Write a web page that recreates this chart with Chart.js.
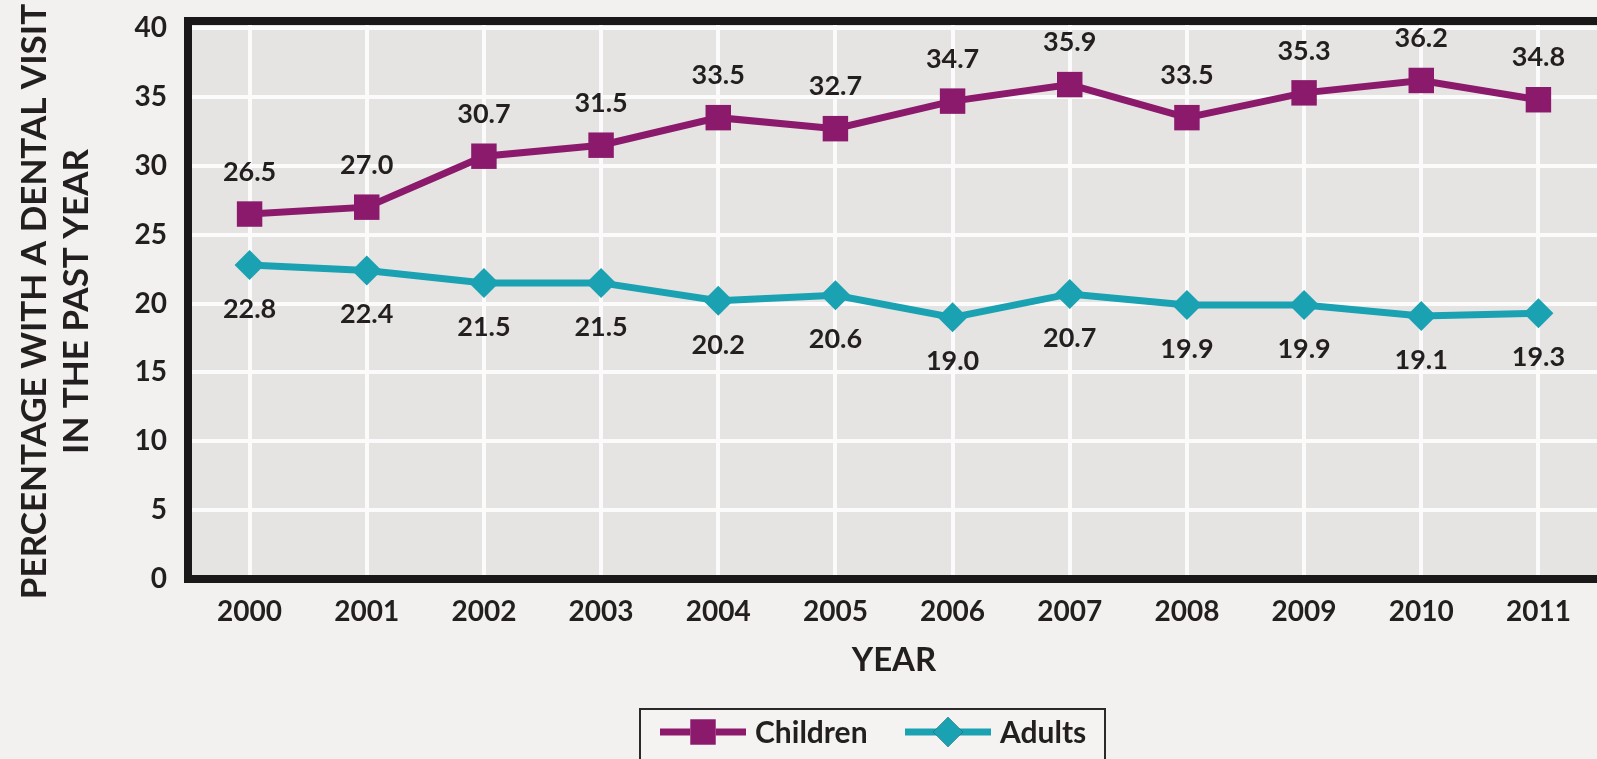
<!DOCTYPE html>
<html>
<head>
<meta charset="utf-8">
<script src="https://cdn.jsdelivr.net/npm/chart.js@4/dist/chart.umd.min.js"></script>
<style>
  html, body { margin: 0; padding: 0; background: #f2f1ef; }
  #wrap { width: 1597px; height: 759px; position: relative; }
</style>
</head>
<body>
<div id="wrap"><canvas id="dentalChart" width="1597" height="759"></canvas></div>
<script>
// data
const years = ['2000', '2001', '2002', '2003', '2004', '2005', '2006', '2007', '2008', '2009', '2010', '2011'];
const children = [26.5, 27.0, 30.7, 31.5, 33.5, 32.7, 34.7, 35.9, 33.5, 35.3, 36.2, 34.8];
const adults = [22.8, 22.4, 21.5, 21.5, 20.2, 20.6, 19.0, 20.7, 19.9, 19.9, 19.1, 19.3];
const yTicks = [0, 5, 10, 15, 20, 25, 30, 35, 40];

const FONT = 'Lato, "Open Sans", sans-serif';
const INK = '#231f20';
const PURPLE = '#8b1a6d';
const TEAL = '#1aa2b3';

// plot background + thick frame (left, top, bottom)
const framePlugin = {
    id: 'frame',
    beforeDraw(chart) {
        const {ctx, chartArea: a} = chart;
        ctx.save();
        ctx.fillStyle = '#e6e4e2';
        ctx.fillRect(a.left - 3, a.top - 3, chart.width, a.bottom - a.top + 3);
        ctx.restore();
    },
    beforeDatasetsDraw(chart) {
        const {ctx, chartArea: a} = chart;
        ctx.save();
        ctx.strokeStyle = '#1a1818';
        ctx.lineWidth = 8;
        ctx.beginPath();
        ctx.moveTo(chart.width + 5, a.top - 3);
        ctx.lineTo(a.left - 3, a.top - 3);
        ctx.lineTo(a.left - 3, a.bottom);
        ctx.lineTo(chart.width + 5, a.bottom);
        ctx.stroke();
        ctx.restore();
    }
};

// value labels above (children) or below (adults) each point
const valueLabels = {
    id: 'valueLabels',
    afterDatasetsDraw(chart) {
        const {ctx} = chart;
        ctx.save();
        ctx.font = 'bold 27px ' + FONT;
        ctx.fillStyle = INK;
        ctx.textAlign = 'center';
        ctx.textBaseline = 'middle';
        chart.data.datasets.forEach((ds, i) => {
            const meta = chart.getDatasetMeta(i);
            meta.data.forEach((pt, j) => {
                const dy = ds.labelSide === 'above' ? -42 : 44;
                ctx.fillText(ds.data[j].toFixed(1), pt.x, pt.y + dy);
            });
        });
        ctx.restore();
    }
};

// boxed legend with line + marker samples
const boxLegend = {
    id: 'boxLegend',
    afterDraw(chart) {
        const {ctx} = chart;
        ctx.save();
        ctx.strokeStyle = '#2a2a2a';
        ctx.lineWidth = 2;
        ctx.fillStyle = '#f4f3f1';
        ctx.fillRect(640, 709, 465, 60);
        ctx.strokeRect(640, 709, 465, 60);
        ctx.font = 'bold 30px ' + FONT;
        ctx.textBaseline = 'middle';
        ctx.textAlign = 'left';
        const items = [
            {x: 660, ds: chart.data.datasets[0]},
            {x: 905, ds: chart.data.datasets[1]}
        ];
        items.forEach(it => {
            const y = 732;
            ctx.strokeStyle = it.ds.borderColor;
            ctx.lineWidth = 7;
            ctx.beginPath();
            ctx.moveTo(it.x, y);
            ctx.lineTo(it.x + 86, y);
            ctx.stroke();
            Chart.helpers.drawPoint(ctx, {
                pointStyle: it.ds.pointStyle,
                radius: it.ds.pointRadius,
                borderWidth: 0,
                rotation: 0
            }, it.x + 43, y);
            ctx.fillStyle = it.ds.backgroundColor;
            ctx.fill();
            ctx.fillStyle = INK;
            ctx.fillText(it.ds.label, it.x + 95, y + 1);
        });
        ctx.restore();
    }
};

const ctx = document.getElementById('dentalChart').getContext('2d');
new Chart(ctx, {
    type: 'line',
    data: {
        labels: years,
        datasets: [
            {
                label: 'Children',
                data: children,
                borderColor: PURPLE,
                backgroundColor: PURPLE,
                borderWidth: 7,
                pointStyle: 'rect',
                pointRadius: 18,
                pointBorderWidth: 0,
                labelSide: 'above'
            },
            {
                label: 'Adults',
                data: adults,
                borderColor: TEAL,
                backgroundColor: TEAL,
                borderWidth: 7,
                pointStyle: 'rectRot',
                pointRadius: 15,
                pointBorderWidth: 0,
                labelSide: 'below'
            }
        ]
    },
    options: {
        responsive: false,
        animation: false,
        layout: { autoPadding: false, padding: { top: 24, right: 0, left: 0, bottom: 0 } },
        plugins: {
            legend: { display: false },
            tooltip: { enabled: false }
        },
        scales: {
            x: {
                offset: true,
                grid: { color: '#fbfbfb', lineWidth: 4, drawTicks: false },
                border: { display: false },
                ticks: {
                    color: INK,
                    font: { family: FONT, size: 28, weight: 'bold' },
                    padding: 16,
                    maxRotation: 0
                },
                title: {
                    display: true,
                    text: 'YEAR',
                    color: INK,
                    font: { family: FONT, size: 33, weight: 'bold' },
                    padding: { top: 0, bottom: 79 }
                },
                afterFit(scale) {
                    scale.height = 180;
                    scale.paddingLeft = 0;
                    scale.paddingRight = 0;
                }
            },
            y: {
                min: 0,
                max: 40.3,
                grid: { color: '#fbfbfb', lineWidth: 4, drawTicks: false },
                border: { display: false },
                afterBuildTicks(scale) {
                    scale.ticks = yTicks.map(v => ({ value: v }));
                },
                ticks: {
                    color: INK,
                    font: { family: FONT, size: 28, weight: 'bold' },
                    padding: 24
                },
                title: {
                    display: true,
                    text: ['PERCENTAGE WITH A DENTAL VISIT', 'IN THE PAST YEAR'],
                    color: INK,
                    font: { family: FONT, size: 35, weight: 'bold', lineHeight: 1.2 },
                    padding: { top: 14, bottom: 0 }
                },
                afterFit(scale) {
                    scale.width = 191;
                    scale.paddingTop = 0;
                    scale.paddingBottom = 0;
                }
            }
        }
    },
    plugins: [framePlugin, valueLabels, boxLegend]
});
</script>
</body>
</html>
